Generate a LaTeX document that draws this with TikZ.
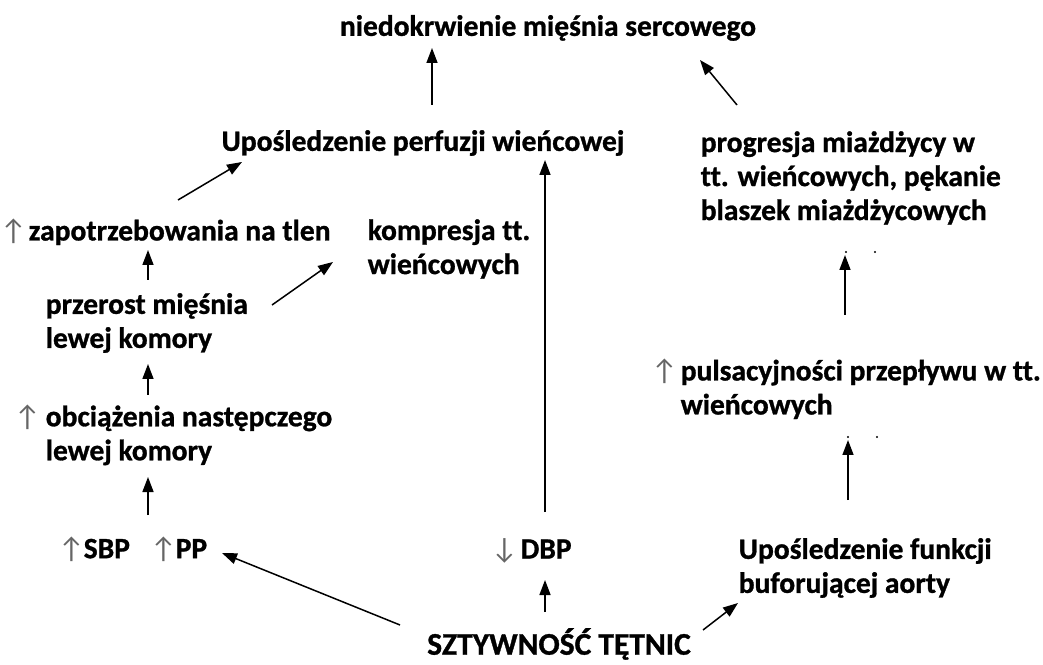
\documentclass[tikz,border=0pt]{standalone}
\usepackage{fontspec}
\setmainfont{Carlito}[Ligatures=NoCommon,BoldFeatures={FakeBold=1}]
\newfontfamily\arrfont{Carlito}
\usetikzlibrary{arrows.meta}
\newcommand{\up}{{\arrfont\mdseries\color{black!60}↑}}
\newcommand{\down}{{\arrfont\mdseries\color{black!60}↓}}
\begin{document}
\begin{tikzpicture}[x=1pt,y=1pt,line width=1.5pt,>={Triangle[length=15pt,width=11pt]}]
				\tikzset{lbl/.style={inner sep=0pt,align=left,font=\fontsize{29.5}{34}\selectfont\bfseries},
					arr/.style={->}
				}
				\useasboundingbox (0,0) rectangle (1043,664);
				\node[lbl] (top) at (548,636) {niedokrwienie mięśnia sercowego};
				\node[lbl] (perf) at (423,521) {Upośledzenie perfuzji wieńcowej};
				\node[lbl,anchor=west] (prog) at (700,486) {progresja miażdżycy w\\tt. wieńcowych, pękanie\\blaszek miażdżycowych};
				\node[lbl,anchor=west] (zap) at (28,432) {\llap{\up\hspace{2pt}}zapotrzebowania na tlen};
				\node[lbl,anchor=west] (komp) at (367,415) {kompresja tt.\\wieńcowych};
				\node[lbl,anchor=west] (prz) at (45,341) {przerost mięśnia\\lewej komory};
				\node[lbl,anchor=west] (obc) at (45,229) {\llap{\up\hspace{5pt}}obciążenia następczego\\lewej komory};
				\node[lbl,anchor=west] (puls) at (680,275) {\llap{\up\hspace{3pt}}pulsacyjności przepływu w tt.\\wieńcowych};
				\node[lbl,anchor=west] (sbp) at (83,115) {\llap{\up\hspace{-1pt}}SBP};
				\node[lbl,anchor=west] (pp) at (175,115) {\llap{\up\hspace{-1pt}}PP};
				\node[lbl,anchor=west] (dbp) at (520,113) {\llap{\down\hspace{3pt}}DBP};
				\node[lbl,anchor=west] (bufor) at (738,96) {Upośledzenie funkcji\\buforującej aorty};
				\node[lbl,font=\fontsize{31.5}{36}\selectfont\bfseries] (szt) at (559,20) {SZTYWNOŚĆ TĘTNIC};
				% strzalki
				\draw[arr] ([shift={(9,38)}]perf.center) -- ([shift={(-116,-20)}]top.center);
				\draw[arr] ([shift={(37,73)}]prog.west) -- ([shift={(152,-32)}]top.center);
				\draw[arr] ([shift={(150,32)}]zap.west) -- ([shift={(-181,-19)}]perf.center);
				\draw[arr] ([shift={(103,43)}]prz.west) -- ([shift={(120,-18)}]zap.west);
				\draw[arr] ([shift={(227,18)}]prz.west) -- ([shift={(-34,-13)}]komp.west);
				\draw[arr] ([shift={(103,40)}]obc.west) -- ([shift={(103,-41)}]prz.west);
				\draw[arr] ([shift={(65,34)}]sbp.west) -- ([shift={(103,-42)}]obc.west);
				\draw[arr] ([shift={(25,39)}]dbp.west) -- ([shift={(122,-17)}]perf.center);
				\draw[arr] ([shift={(-14,32)}]szt.center) -- ([shift={(25,-29)}]dbp.west);
				\draw[arr] ([shift={(-159,19)}]szt.center) -- ([shift={(47,-4)}]pp.west);
				\draw[arr] ([shift={(144,14)}]szt.center) -- ([shift={(0,-35)}]bufor.west);
				\draw[arr] ([shift={(110,68)}]bufor.west) -- ([shift={(168,-51)}]puls.west);
				\draw[arr] ([shift={(165,74)}]puls.west) -- ([shift={(145,-77)}]prog.west);
				\fill ([shift={(168,-48)}]puls.west) circle (1.2) ([shift={(197,-48)}]puls.west) circle (1.2);
				\fill ([shift={(146,-74)}]prog.west) circle (1.2) ([shift={(175,-74)}]prog.west) circle (1.2);
			\end{tikzpicture}
\end{document}
